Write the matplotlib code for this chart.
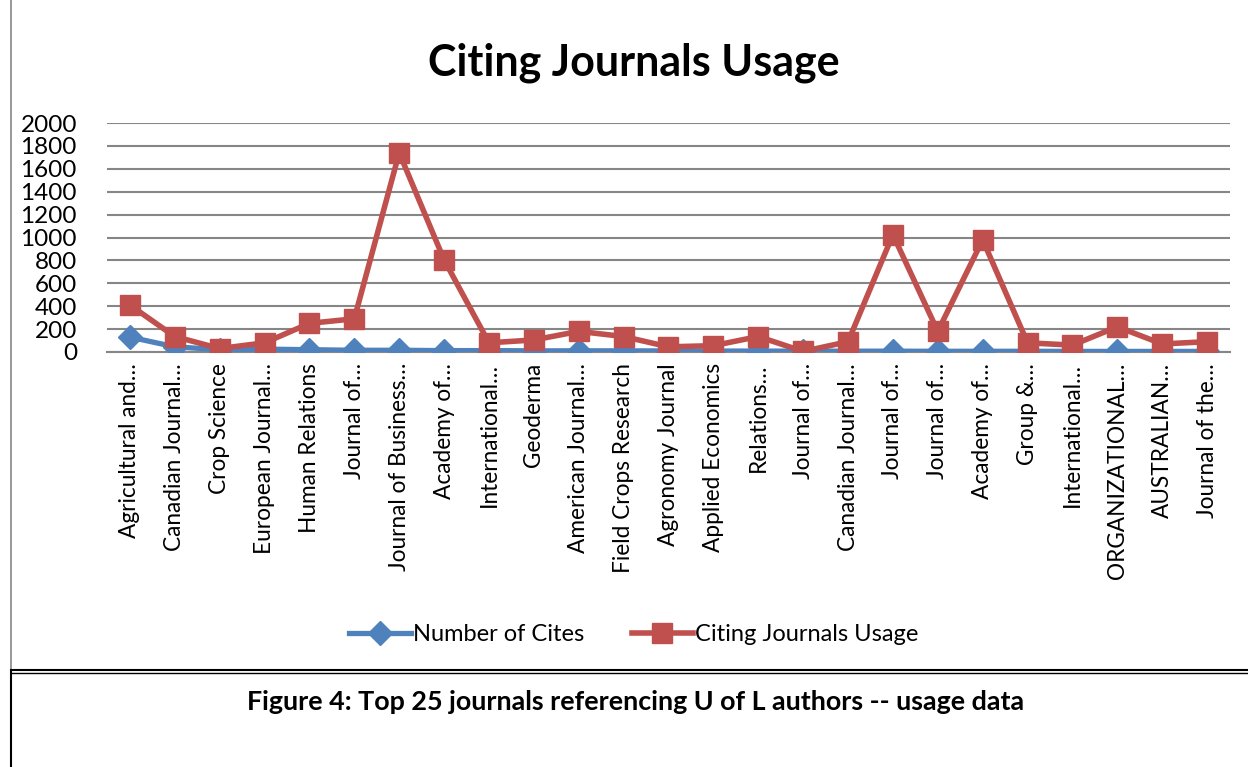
import matplotlib.pyplot as plt
from matplotlib.lines import Line2D

# journal names as they appear (truncated) on the x axis
journals = ['Agricultural and…', 'Canadian Journal…', 'Crop Science', 'European Journal…',
            'Human Relations', 'Journal of…', 'Journal of Business…', 'Academy of…',
            'International…', 'Geoderma', 'American Journal…', 'Field Crops Research',
            'Agronomy Journal', 'Applied Economics', 'Relations…', 'Journal of…',
            'Canadian Journal…', 'Journal of…', 'Journal of…', 'Academy of…',
            'Group &…', 'International…', 'ORGANIZATIONAL…', 'AUSTRALIAN…', 'Journal of the…']

number_of_cites = [130, 45, 20, 25, 20, 15, 15, 12, 12, 10, 10, 10, 9,
                   8, 8, 7, 7, 7, 6, 6, 6, 5, 5, 5, 5]
usage = [410, 135, 30, 80, 250, 290, 1740, 805, 80, 105, 180, 135, 45,
         55, 135, 5, 90, 1025, 180, 980, 80, 60, 220, 70, 90]

yticks = [0, 200, 400, 600, 800, 1000, 1200, 1400, 1600, 1800, 2000]

plt.rcParams['font.family'] = ['Lato', 'DejaVu Sans']

fig = plt.figure(figsize=(12.48, 7.67), dpi=100)
ax = fig.add_axes([0.0861, 0.5411, 0.8991, 0.2985])

x = list(range(len(journals)))
ax.plot(x, number_of_cites, color='#4F81BD', lw=3.8, marker='D', markersize=12,
        label='Number of Cites', zorder=3)
ax.plot(x, usage, color='#C0504D', lw=4.0, marker='s', markersize=15,
        label='Citing Journals Usage', zorder=4)

ax.set_xlim(-0.5, len(journals) - 0.5)
ax.set_ylim(0, 2000)
ax.set_yticks(yticks)
ax.set_xticks(x)
ax.set_xticklabels(journals, rotation=90, fontsize=16.3)
ax.tick_params(axis='y', length=0, labelsize=17.5, pad=22)
ax.tick_params(axis='x', length=0, pad=8)
ax.yaxis.grid(True, color='#868686', lw=1.5)
ax.set_axisbelow(True)
for s in ['left', 'right', 'top']:
    ax.spines[s].set_visible(False)
ax.spines['bottom'].set_color('#868686')
ax.spines['bottom'].set_linewidth(1.5)

fig.text(0.508, 0.918, 'Citing Journals Usage', ha='center', va='center',
         fontsize=31, fontweight='bold')

fig.legend(loc='center', bbox_to_anchor=(0.508, 0.173), ncol=2, frameon=False,
           fontsize=17, handlelength=2.6, columnspacing=2.0, handletextpad=0.1)

# chart border and caption box
fig.add_artist(Line2D([0.0085, 0.0085], [0.126, 1.0], color='#868686', lw=1.2))
fig.add_artist(Line2D([0.0085, 1.0], [0.126, 0.126], color='black', lw=1.5))
fig.add_artist(Line2D([0.0085, 1.0], [0.122, 0.122], color='black', lw=1.0))
fig.add_artist(Line2D([0.0085, 0.0085], [0.0, 0.124], color='black', lw=1.5))

fig.text(0.509, 0.085, 'Figure 4: Top 25 journals referencing U of L authors -- usage data',
         ha='center', va='center', fontsize=19.4, fontweight='bold')

fig.savefig('out.png', dpi=100)
